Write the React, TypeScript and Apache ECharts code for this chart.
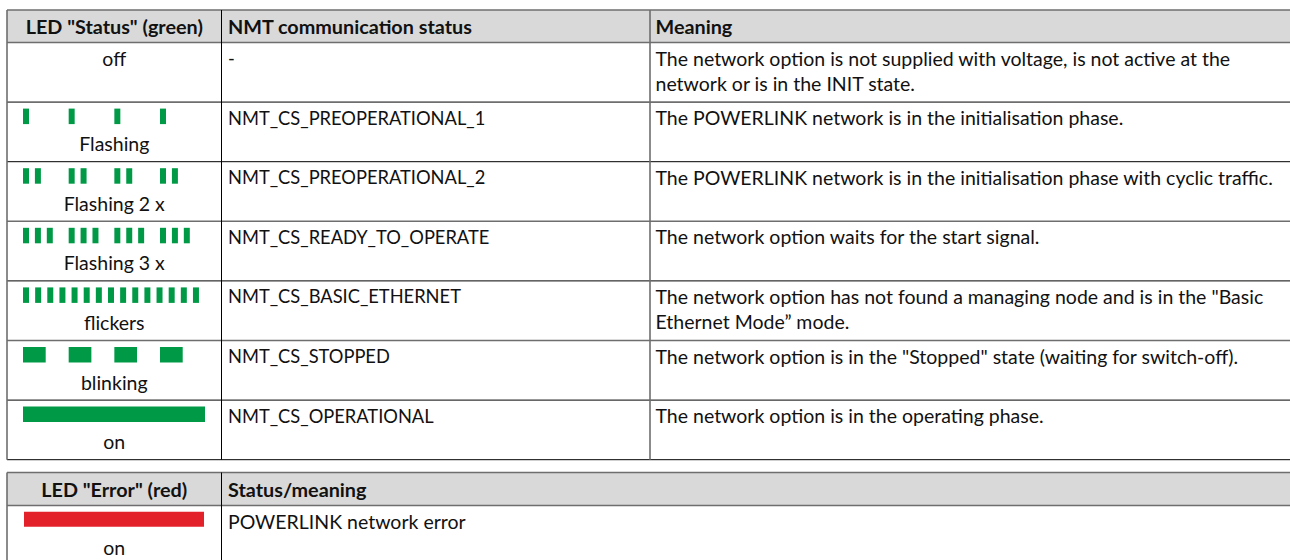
import React, { useEffect, useRef } from "react";
import * as echarts from "echarts";

// ---- table content ----
const statusHeaders = ['LED "Status" (green)', "NMT communication status", "Meaning"];
const ledLabels = ["off", "Flashing", "Flashing 2 x", "Flashing 3 x", "flickers", "blinking", "on"];
const nmtStates = [
  "-",
  "NMT_CS_PREOPERATIONAL_1",
  "NMT_CS_PREOPERATIONAL_2",
  "NMT_CS_READY_TO_OPERATE",
  "NMT_CS_BASIC_ETHERNET",
  "NMT_CS_STOPPED",
  "NMT_CS_OPERATIONAL",
];
const meanings = [
  "The network option is not supplied with voltage, is not active at the\nnetwork or is in the INIT state.",
  "The POWERLINK network is in the initialisation phase.",
  "The POWERLINK network is in the initialisation phase with cyclic traffic.",
  "The network option waits for the start signal.",
  'The network option has not found a managing node and is in the "Basic\nEthernet Mode” mode.',
  'The network option is in the "Stopped" state (waiting for switch-off).',
  "The network option is in the operating phase.",
];
// LED pattern per row: kind and pulses per group
const ledKinds = ["none", "pulse", "pulse", "pulse", "flicker", "blink", "on"];
const pulsesPerGroup = [0, 1, 2, 3, 0, 0, 0];
const errorHeaders = ['LED "Error" (red)', "Status/meaning"];
const errorLabels = ["on"];
const errorMeanings = ["POWERLINK network error"];

const GREEN = "#009a46";
const RED = "#e3212b";
const FONT = "Lato";
const FS = 19.5;
const FS_CAPS = 18.3;
const FS_BOLD = 19.8;

export default function App() {
  const ref = useRef<HTMLDivElement>(null);
  useEffect(() => {
    document.body.style.margin = "0";
    const chart = echarts.init(ref.current!, null, { renderer: "svg" });
    const els: any[] = [];
    const x0 = 7, x1 = 221.5, x2 = 650, xr = 1292;
    const c1 = (x0 + x1) / 2;
    const tTop = 10, hBot = 42.5;
    const rowH = 59.6;
    const rowTops = ledLabels.map((_, i) => hBot + i * rowH);
    const tBot = hBot + ledLabels.length * rowH;

    const hline = (y: number, gray: boolean, z = 5) =>
      els.push({ type: "line", z, shape: { x1: x0, y1: y, x2: xr, y2: y }, style: { stroke: gray ? "#6e6e6e" : "#000", lineWidth: gray ? 1.6 : 1 } });
    const vline = (x: number, ya: number, yb: number, gray: boolean) =>
      els.push({ type: "line", z: 5, shape: { x1: x, y1: ya, x2: x, y2: yb }, style: { stroke: gray ? "#6e6e6e" : "#000", lineWidth: gray ? 1.6 : 1 } });
    const txt = (x: number, y: number, s: string, align: string, size: number, bold = false) =>
      els.push({ type: "text", z: 6, x, y, style: { text: s, fill: "#111", font: `${bold ? "bold " : ""}${size}px ${FONT}`, align, verticalAlign: "middle" } });
    const bar = (x: number, y: number, w: number, h: number, c: string) =>
      els.push({ type: "rect", z: 4, shape: { x, y, width: w, height: h }, style: { fill: c } });

    // header background
    const hy = (tTop + hBot) / 2;
    els.push({ type: "rect", z: 1, shape: { x: x0, y: tTop, width: xr - x0, height: hBot - tTop }, style: { fill: "#d9d9d9" } });
    txt(c1, hy, statusHeaders[0], "center", FS_BOLD, true);
    txt(x1 + 6.5, hy, statusHeaders[1], "left", FS_BOLD, true);
    txt(x2 + 5.5, hy, statusHeaders[2], "left", FS_BOLD, true);

    ledLabels.forEach((lab, i) => {
      const top = rowTops[i];
      const kind = ledKinds[i];
      if (kind === "none") txt(c1, top + 15.5, lab, "center", FS);
      else txt(c1, top + 41.5, lab, "center", FS);
      txt(x1 + 6.5, top + 15.5, nmtStates[i], "left", FS_CAPS);
      els.push({ type: "text", z: 6, x: x2 + 5.5, y: top + 3, style: { text: meanings[i], fill: "#111", font: `${FS}px ${FONT}`, align: "left", verticalAlign: "top", lineHeight: 25 } });
      const by = top + 6.5, bh = 15.5;
      if (kind === "pulse") {
        for (let g = 0; g < 4; g++)
          for (let p = 0; p < pulsesPerGroup[i]; p++) bar(23 + g * 45.67 + p * 11.9, by, 6, bh, GREEN);
      } else if (kind === "flicker") {
        for (let k = 0; k < 15; k++) bar(23 + k * 12.14, by, 6, bh, GREEN);
      } else if (kind === "blink") {
        for (let g = 0; g < 4; g++) bar(23 + g * 45.67, by, 22.7, bh, GREEN);
      } else if (kind === "on") {
        bar(23, by, 182, bh, GREEN);
      }
    });
    // status table lines
    hline(tTop, true);
    hline(hBot, true);
    rowTops.slice(1).forEach((y, i) => hline(y, i % 2 === 0));
    hline(tBot, false);
    vline(x0, tTop, tBot, true);
    vline(x1, tTop, tBot, false);
    vline(x2, tTop, tBot, true);

    // error table
    const eTop = 472.5, eHBot = 505.5, eBot = 566;
    els.push({ type: "rect", z: 1, shape: { x: x0, y: eTop, width: xr - x0, height: eHBot - eTop }, style: { fill: "#d9d9d9" } });
    txt(c1, (eTop + eHBot) / 2, errorHeaders[0], "center", FS_BOLD, true);
    txt(x1 + 6.5, (eTop + eHBot) / 2, errorHeaders[1], "left", FS_BOLD, true);
    errorLabels.forEach((lab, i) => {
      const top = eHBot + i * rowH;
      bar(24, top + 6.2, 180, 15, RED);
      txt(c1, top + 41.5, lab, "center", FS);
      txt(x1 + 6.5, top + 15.5, errorMeanings[i], "left", FS);
    });
    hline(eTop, true);
    hline(eHBot, true);
    vline(x0, eTop, eBot, true);
    vline(x1, eTop, eBot, false);

    chart.setOption({ animation: false, backgroundColor: "#fff", graphic: { elements: els } });
    return () => chart.dispose();
  }, []);
  return <div ref={ref} style={{ width: 1290, height: 560 }} />;
}
